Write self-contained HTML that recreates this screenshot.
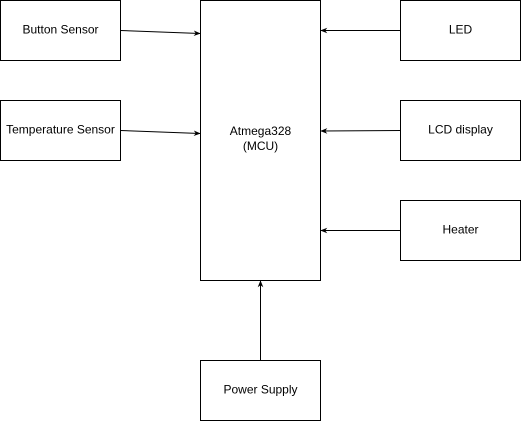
<!DOCTYPE html>
<html><head><meta charset="utf-8"><style>
html,body{margin:0;padding:0;background:#fff;}
svg{display:block;}
text{font-family:"Liberation Sans",Arial,sans-serif;font-size:12px;fill:#000;}
</style></head><body>
<svg width="521" height="421" viewBox="0 0 521 421" xmlns="http://www.w3.org/2000/svg">
<defs><marker id="a" viewBox="0 0 10 10" refX="9" refY="5" markerWidth="7" markerHeight="7" orient="auto-start-reverse" markerUnits="userSpaceOnUse"><path d="M0,1 L10,5 L0,9 L3,5 z" fill="#000"/></marker></defs>
<g fill="#fff" stroke="#000" stroke-width="1">
<rect x="0.5" y="0.5" width="120" height="60"/>
<rect x="0.5" y="100.5" width="120" height="60"/>
<rect x="200.5" y="0.5" width="120" height="280"/>
<rect x="400.5" y="0.5" width="120" height="60"/>
<rect x="400.5" y="100.5" width="120" height="60"/>
<rect x="400.5" y="200.5" width="120" height="60"/>
<rect x="200.5" y="360.5" width="120" height="60"/>
</g>
<g stroke="#000" stroke-width="1" fill="none">
<line x1="120.5" y1="30.5" x2="200" y2="33.5" marker-end="url(#a)"/>
<line x1="120.5" y1="130.5" x2="200" y2="133.5" marker-end="url(#a)"/>
<line x1="400.5" y1="30.5" x2="321" y2="30.5" marker-end="url(#a)"/>
<line x1="400.5" y1="130.5" x2="321" y2="131" marker-end="url(#a)"/>
<line x1="400.5" y1="230.5" x2="321" y2="230.5" marker-end="url(#a)"/>
<line x1="260.5" y1="360.5" x2="260.5" y2="281" marker-end="url(#a)"/>
</g>
<g text-anchor="middle">
<text x="60.5" y="33.5">Button Sensor</text>
<text x="60.5" y="133.5">Temperature Sensor</text>
<text x="260.5" y="135">Atmega328</text>
<text x="260.5" y="150">(MCU)</text>
<text x="460.5" y="33.5">LED</text>
<text x="460.5" y="133.5">LCD display</text>
<text x="460.5" y="233.5">Heater</text>
<text x="260.5" y="393.5">Power Supply</text>
</g>
</svg>
</body></html>
